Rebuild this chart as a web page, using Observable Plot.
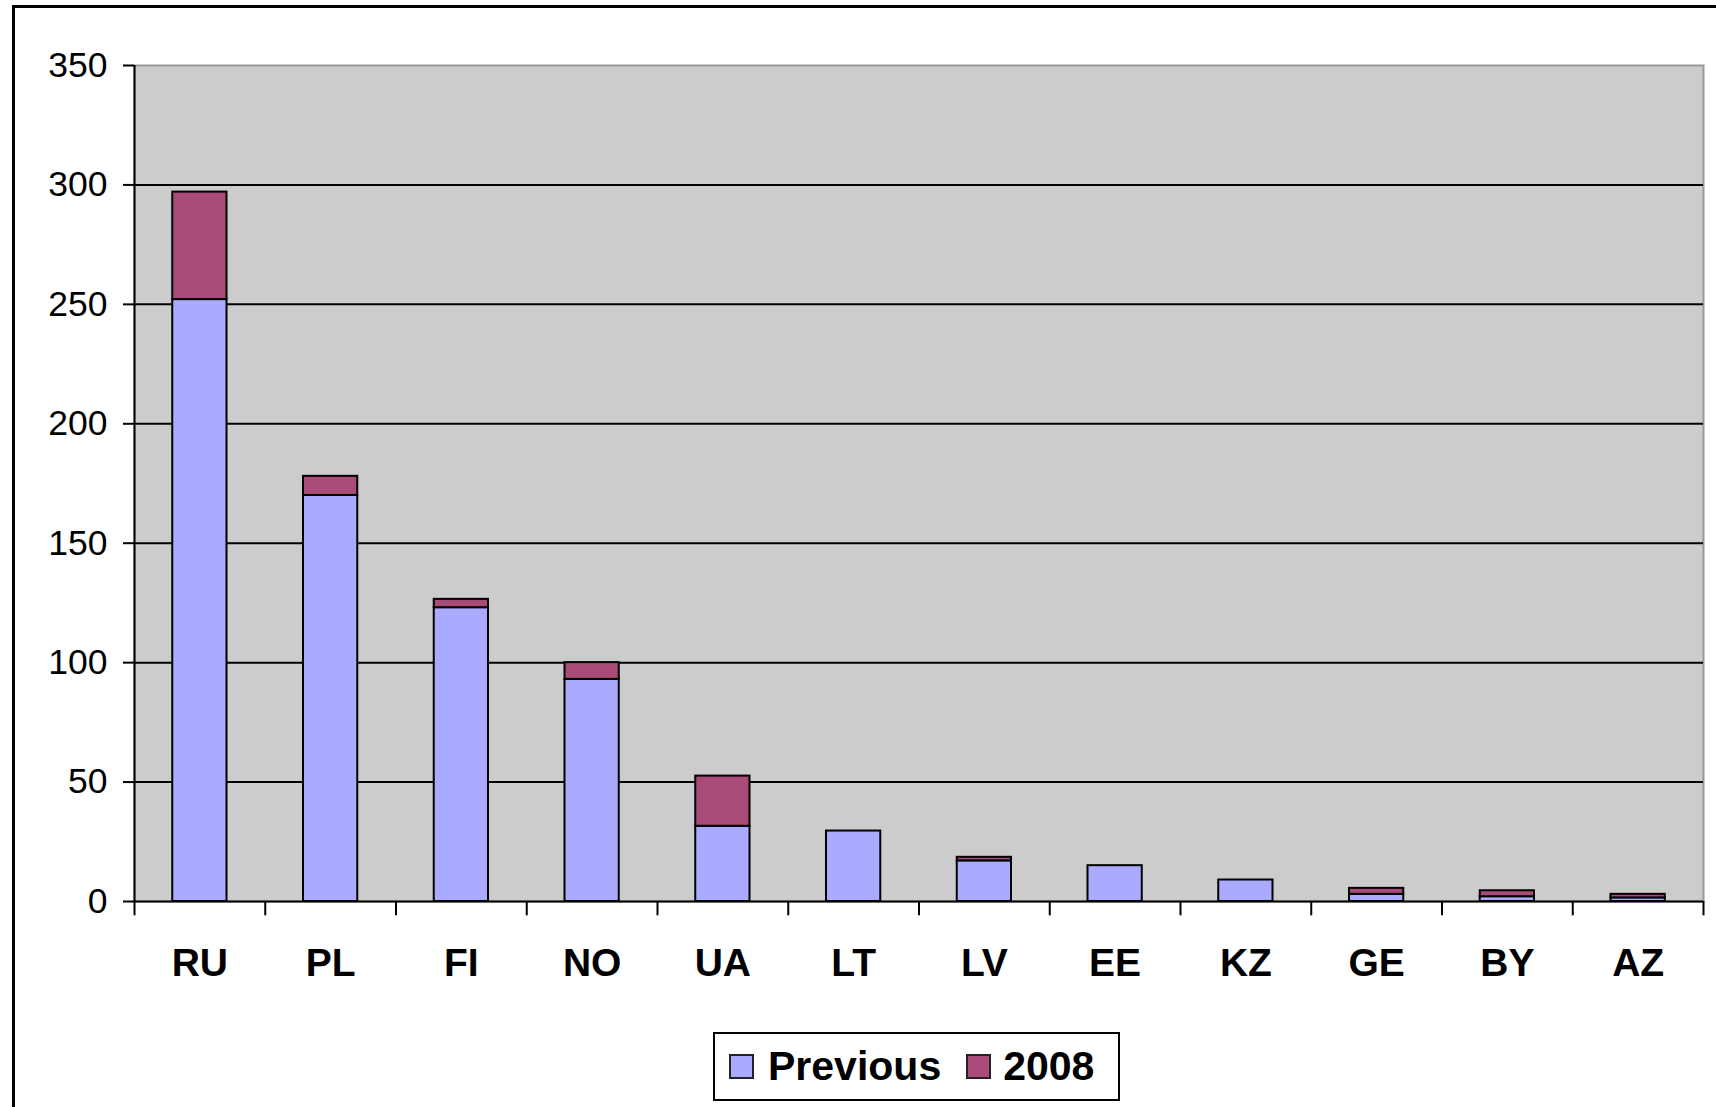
<!DOCTYPE html>
<html>
<head>
<meta charset="utf-8">
<script src="https://cdn.jsdelivr.net/npm/d3@7"></script>
<script src="https://cdn.jsdelivr.net/npm/@observablehq/plot@0.6"></script>
<style>
  html, body { margin: 0; padding: 0; background: #fff; color: #000; }
  body { width: 1716px; height: 1107px; overflow: hidden; position: relative; font-family: "Liberation Sans", Arial, sans-serif; }
  #frame { position: absolute; left: 12px; top: 5px; width: 1800px; height: 1200px; border: 3px solid #000; box-sizing: border-box; }
  #chart { position: absolute; left: 0; top: 0; }
  #chart svg g[aria-label="y-axis tick label"] { font-size: 35.5px; font-weight: normal; }
  #chart svg g[aria-label="x-axis tick label"] { font-size: 39px; font-weight: bold; }
  #legend { position: absolute; left: 713px; top: 1032px; width: 407px; height: 69px; box-sizing: border-box;
    border: 2px solid #000; display: flex; align-items: center; font: bold 41px "Liberation Sans", Arial, sans-serif; background: #fff; }
  .sw { width: 25px; height: 25px; box-sizing: border-box; border: 2px solid #222; flex: none; }
  .lab { line-height: 1; }
</style>
</head>
<body>
<div id="frame"></div>
<div id="chart"></div>
<div id="legend"></div>
<script>
const countries = ["RU","PL","FI","NO","UA","LT","LV","EE","KZ","GE","BY","AZ"];
const previous  = [252, 170, 123, 93, 31.5, 29.5, 17, 15, 9, 3, 2, 1.5];
const y2008     = [45, 8, 3.5, 7, 21, 0, 1.5, 0, 0, 2.5, 2.5, 1.5];
const seriesNames = ["Previous", "2008"];
const seriesColors = ["#aaaaff", "#a94b78"];
const yTicks = [0, 50, 100, 150, 200, 250, 300, 350];

const data = [];
countries.forEach((c, i) => data.push({country: c, series: "Previous", value: previous[i]}));
countries.forEach((c, i) => { if (y2008[i] > 0) data.push({country: c, series: "2008", value: y2008[i]}); });

const W = 1716, H = 1010, mL = 134, mR = 13, mT = 65, mB = 109;
const step = (W - mL - mR) / countries.length;

const chart = Plot.plot({
  width: W, height: H,
  marginLeft: mL, marginRight: mR, marginTop: mT, marginBottom: mB,
  style: {fontFamily: "'Liberation Sans', Arial, sans-serif", background: "transparent", overflow: "visible", color: "#000"},
  x: {domain: countries, paddingInner: 0.585, paddingOuter: 0.2925, align: 0.5, round: false, label: null},
  y: {domain: [0, 350], ticks: yTicks, label: null},
  color: {domain: seriesNames, range: seriesColors},
  marks: [
    Plot.frame({fill: "#cccccc", stroke: "#999999", strokeWidth: 2}),
    Plot.gridY(yTicks.filter(t => t > 0 && t < 350), {stroke: "#000", strokeOpacity: 1, strokeWidth: 2}),
    Plot.barY(data, {x: "country", y: "value", fill: "series", stroke: "#000", strokeWidth: 2}),
    Plot.ruleY([0], {stroke: "#000", strokeWidth: 2}),
    Plot.ruleX([countries[0]], {x: d => d, dx: -step / 2, y1: 0, y2: 350, stroke: "#000", strokeWidth: 2}),
    Plot.axisY({ticks: yTicks, tickSize: 11, tickPadding: 16, tickFormat: d => String(d), strokeWidth: 2, fontSize: 35.5, label: null}),
    Plot.axisX({tickSize: 0, tickPadding: 47, fontSize: 39, fontWeight: "bold", label: null}),
    Plot.ruleX(countries, {x: d => d, dx: -step / 2, y1: 0, y2: -6, stroke: "#000", strokeWidth: 2}),
    Plot.ruleX([countries[countries.length - 1]], {x: d => d, dx: step / 2, y1: 0, y2: -6, stroke: "#000", strokeWidth: 2})
  ]
});
document.getElementById("chart").appendChild(chart);

const legend = document.getElementById("legend");
const gaps = [[14, 14], [25, 12]];
seriesNames.forEach((name, i) => {
  const sw = document.createElement("div");
  sw.className = "sw";
  sw.style.background = seriesColors[i];
  sw.style.marginLeft = gaps[i][0] + "px";
  const lab = document.createElement("span");
  lab.className = "lab";
  lab.textContent = name;
  lab.style.marginLeft = gaps[i][1] + "px";
  legend.appendChild(sw);
  legend.appendChild(lab);
});
</script>
</body>
</html>
